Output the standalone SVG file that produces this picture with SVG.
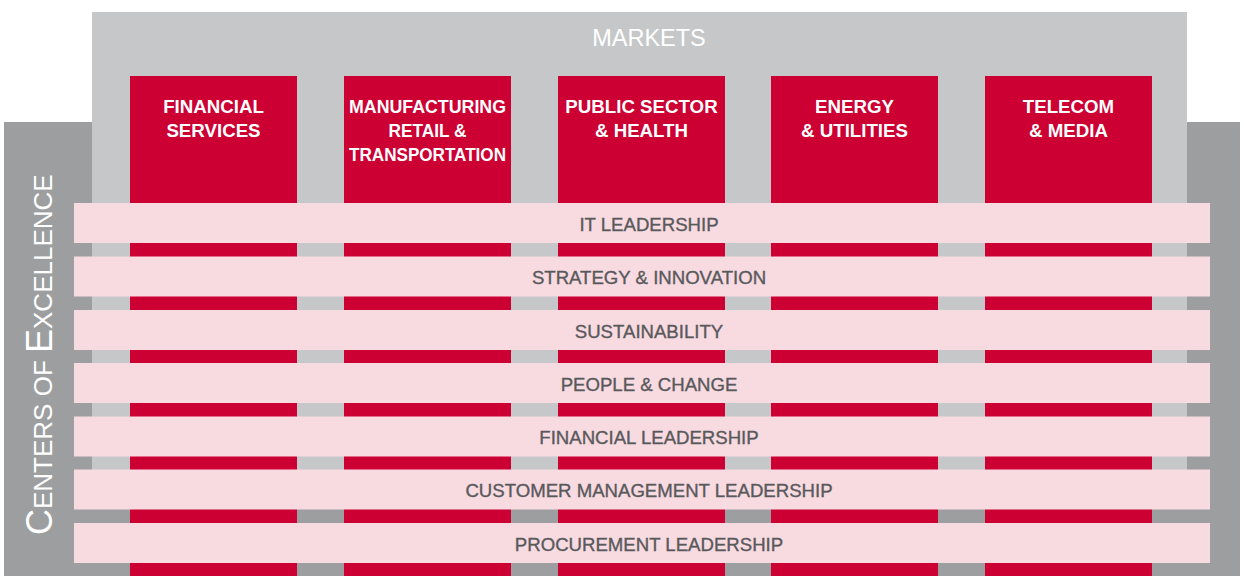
<svg xmlns="http://www.w3.org/2000/svg" width="1244" height="576" viewBox="0 0 1244 576">
  <style>
    .coe-bg { fill: #9d9ea0; }
    .mkt-bg { fill: #c6c7c9; }
    .col { fill: #cc0033; }
    .band { fill: #f8dae1; }
    .title { font-family: "Liberation Sans", Arial, sans-serif; font-size: 23.5px; fill: #ffffff; text-anchor: middle; }
    .col-label { font-family: "Liberation Sans", Arial, sans-serif; font-size: 18.7px; font-weight: bold; fill: #ffffff; text-anchor: middle; }
    .band-label { font-family: "Liberation Sans", Arial, sans-serif; font-size: 18.6px; fill: #58595b; stroke: #58595b; stroke-width: 0.35px; text-anchor: middle; }
    .coe-label { font-family: "Liberation Sans", Arial, sans-serif; fill: #ffffff; }
  </style>

  <!-- Centers of Excellence backdrop -->
  <g id="centers-of-excellence">
    <rect class="coe-bg" x="4" y="122" width="1236" height="454"/>
    <text class="coe-label" transform="translate(52,535) rotate(-90)"><tspan font-size="36">C</tspan><tspan font-size="26">ENTERS OF </tspan><tspan font-size="36">E</tspan><tspan font-size="26">XCELLENCE</tspan></text>
  </g>

  <!-- Markets backdrop -->
  <g id="markets">
    <rect class="mkt-bg" x="92" y="12" width="1095" height="478"/>
    <text class="title" x="649" y="46">MARKETS</text>
  </g>

  <!-- Market columns -->
  <g id="financial-services">
    <rect class="col" x="130" y="76" width="167" height="500"/>
    <text class="col-label" x="213.5" y="113">FINANCIAL</text>
    <text class="col-label" x="213.5" y="137">SERVICES</text>
  </g>
  <g id="manufacturing">
    <rect class="col" x="344" y="76" width="167" height="500"/>
    <text class="col-label" x="427.5" y="113" textLength="157" lengthAdjust="spacingAndGlyphs">MANUFACTURING</text>
    <text class="col-label" x="427.5" y="137" textLength="78" lengthAdjust="spacingAndGlyphs">RETAIL &amp;</text>
    <text class="col-label" x="427.5" y="161" textLength="157" lengthAdjust="spacingAndGlyphs">TRANSPORTATION</text>
  </g>
  <g id="public-sector">
    <rect class="col" x="558" y="76" width="167" height="500"/>
    <text class="col-label" x="641.5" y="113">PUBLIC SECTOR</text>
    <text class="col-label" x="641.5" y="137">&amp; HEALTH</text>
  </g>
  <g id="energy">
    <rect class="col" x="771" y="76" width="167" height="500"/>
    <text class="col-label" x="854.5" y="113">ENERGY</text>
    <text class="col-label" x="854.5" y="137">&amp; UTILITIES</text>
  </g>
  <g id="telecom">
    <rect class="col" x="985" y="76" width="167" height="500"/>
    <text class="col-label" x="1068.5" y="113">TELECOM</text>
    <text class="col-label" x="1068.5" y="137">&amp; MEDIA</text>
  </g>

  <!-- Excellence bands crossing the columns -->
  <g id="it-leadership">
    <rect class="band" x="74" y="203" width="1136" height="40"/>
    <text class="band-label" x="649" y="230.5">IT LEADERSHIP</text>
  </g>
  <g id="strategy-innovation">
    <rect class="band" x="74" y="256.5" width="1136" height="40"/>
    <text class="band-label" x="649" y="284">STRATEGY &amp; INNOVATION</text>
  </g>
  <g id="sustainability">
    <rect class="band" x="74" y="310" width="1136" height="40"/>
    <text class="band-label" x="649" y="337.5">SUSTAINABILITY</text>
  </g>
  <g id="people-change">
    <rect class="band" x="74" y="363" width="1136" height="40"/>
    <text class="band-label" x="649" y="390.5">PEOPLE &amp; CHANGE</text>
  </g>
  <g id="financial-leadership">
    <rect class="band" x="74" y="416.5" width="1136" height="40"/>
    <text class="band-label" x="649" y="444">FINANCIAL LEADERSHIP</text>
  </g>
  <g id="customer-management">
    <rect class="band" x="74" y="469.5" width="1136" height="40"/>
    <text class="band-label" x="649" y="497">CUSTOMER MANAGEMENT LEADERSHIP</text>
  </g>
  <g id="procurement">
    <rect class="band" x="74" y="523" width="1136" height="40"/>
    <text class="band-label" x="649" y="550.5">PROCUREMENT LEADERSHIP</text>
  </g>

  <!-- no connectors in this layout -->
  <g id="connectors"/>
</svg>
